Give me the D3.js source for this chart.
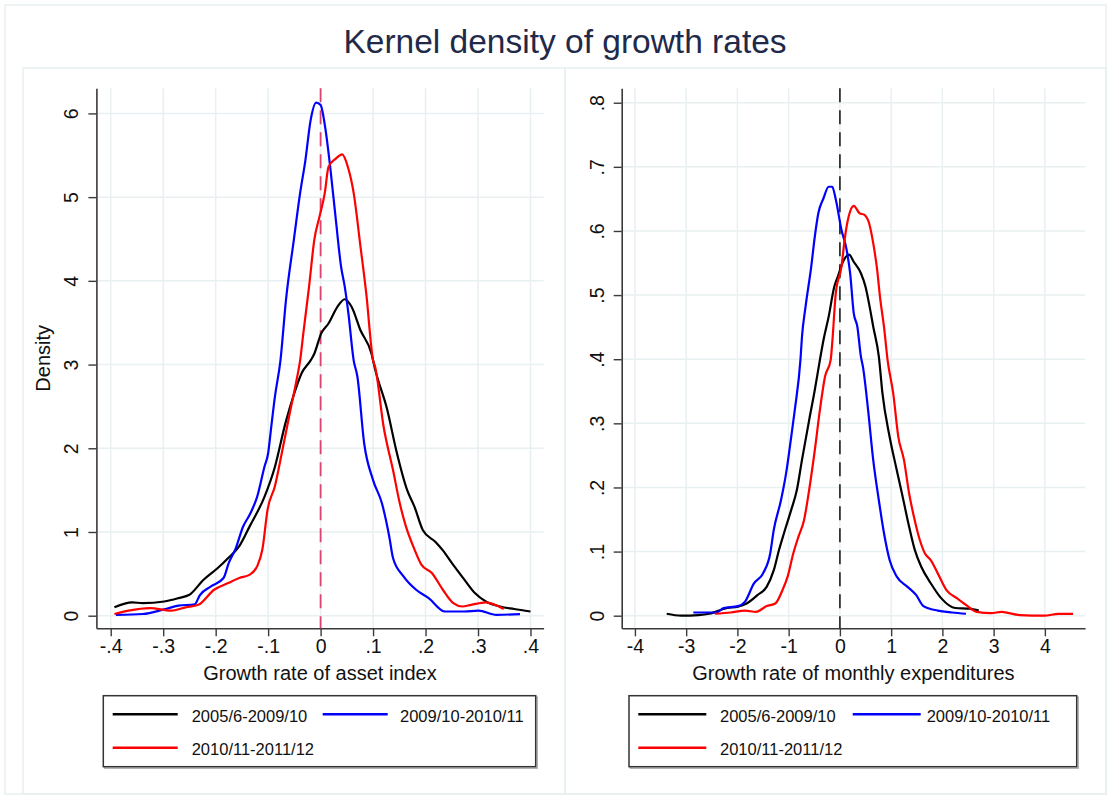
<!DOCTYPE html>
<html>
<head>
<meta charset="utf-8">
<script src="https://cdn.jsdelivr.net/npm/d3@7"></script>
<style>
  body { margin: 0; background: #fff; }
  svg { display: block; font-family: "Liberation Sans", Arial, sans-serif; }
</style>
</head>
<body>
<svg id="chart" width="1119" height="809"></svg>
<script>
// ---------------- DATA ----------------
const seriesNames = ["2005/6-2009/10", "2009/10-2010/11", "2010/11-2011/12"];
const seriesColors = ["#000000", "#0000ff", "#ff0000"];

// Left panel: growth rate of asset index  [x, density]
const assetBlack = [[-0.393,0.10],[-0.359,0.16],[-0.339,0.15],[-0.298,0.17],[-0.271,0.21],[-0.250,0.25],[-0.223,0.43],[-0.196,0.57],[-0.176,0.69],[-0.155,0.83],[-0.135,1.07],[-0.107,1.42],[-0.087,1.78],[-0.067,2.30],[-0.050,2.66],[-0.036,2.90],[-0.019,3.05],[-0.012,3.13],[0.001,3.37],[0.015,3.49],[0.032,3.69],[0.046,3.78],[0.059,3.69],[0.076,3.41],[0.097,3.13],[0.104,2.94],[0.127,2.46],[0.144,1.98],[0.165,1.50],[0.179,1.30],[0.195,1.02],[0.219,0.88],[0.233,0.78],[0.250,0.63],[0.274,0.43],[0.294,0.27],[0.315,0.17],[0.342,0.11],[0.369,0.08],[0.400,0.05]];
const assetBlue = [[-0.390,0.01],[-0.339,0.02],[-0.298,0.076],[-0.271,0.12],[-0.240,0.136],[-0.230,0.247],[-0.209,0.35],[-0.185,0.45],[-0.175,0.63],[-0.162,0.80],[-0.148,1.06],[-0.134,1.22],[-0.121,1.42],[-0.107,1.78],[-0.100,1.94],[-0.094,2.26],[-0.087,2.62],[-0.0765,3.05],[-0.066,3.77],[-0.051,4.49],[-0.039,5.05],[-0.029,5.44],[-0.019,5.92],[-0.0084,6.13],[0.000,6.10],[0.0086,5.84],[0.019,5.32],[0.029,4.73],[0.039,4.17],[0.046,3.93],[0.053,3.61],[0.063,3.05],[0.070,2.86],[0.083,2.06],[0.100,1.62],[0.117,1.34],[0.131,0.94],[0.138,0.69],[0.158,0.47],[0.182,0.31],[0.206,0.21],[0.237,0.05],[0.274,0.05],[0.301,0.06],[0.335,0.01],[0.380,0.02]];
const assetRed = [[-0.393,0.02],[-0.366,0.06],[-0.325,0.09],[-0.285,0.06],[-0.257,0.10],[-0.233,0.13],[-0.203,0.31],[-0.176,0.39],[-0.155,0.45],[-0.135,0.49],[-0.121,0.59],[-0.111,0.79],[-0.101,1.27],[-0.087,1.55],[-0.074,1.94],[-0.060,2.38],[-0.046,2.81],[-0.039,3.05],[-0.033,3.37],[-0.022,3.93],[-0.012,4.49],[-0.002,4.77],[0.008,5.05],[0.015,5.36],[0.029,5.46],[0.041,5.51],[0.052,5.36],[0.063,5.05],[0.076,4.41],[0.087,3.85],[0.100,3.05],[0.104,2.97],[0.120,2.26],[0.138,1.74],[0.151,1.34],[0.161,1.10],[0.179,0.79],[0.192,0.61],[0.212,0.51],[0.233,0.31],[0.253,0.15],[0.270,0.11],[0.287,0.13],[0.315,0.16],[0.349,0.08]];

// Right panel: growth rate of monthly expenditures  [x, density]
const expBlack = [[-3.38,0.003],[-3.10,0.0],[-2.76,0.001],[-2.55,0.003],[-2.20,0.012],[-1.99,0.014],[-1.82,0.019],[-1.61,0.032],[-1.43,0.045],[-1.29,0.071],[-1.19,0.102],[-1.09,0.129],[-0.95,0.165],[-0.84,0.196],[-0.74,0.243],[-0.60,0.305],[-0.49,0.352],[-0.39,0.399],[-0.32,0.430],[-0.22,0.466],[-0.11,0.513],[-0.04,0.529],[0.06,0.552],[0.18,0.563],[0.27,0.552],[0.41,0.534],[0.50,0.513],[0.58,0.482],[0.65,0.451],[0.76,0.404],[0.83,0.347],[0.97,0.279],[1.11,0.227],[1.21,0.191],[1.35,0.139],[1.46,0.103],[1.59,0.076],[1.77,0.051],[1.98,0.027],[2.25,0.012],[2.53,0.011],[2.71,0.008]];
const expBlue = [[-2.86,0.005],[-2.41,0.005],[-2.27,0.012],[-1.99,0.015],[-1.85,0.022],[-1.68,0.05],[-1.50,0.066],[-1.36,0.097],[-1.29,0.134],[-1.15,0.18],[-1.05,0.222],[-0.95,0.279],[-0.88,0.321],[-0.77,0.399],[-0.74,0.435],[-0.67,0.482],[-0.56,0.544],[-0.49,0.591],[-0.42,0.628],[-0.32,0.651],[-0.22,0.669],[-0.15,0.669],[-0.08,0.649],[0.03,0.602],[0.13,0.571],[0.20,0.534],[0.27,0.472],[0.34,0.451],[0.41,0.404],[0.45,0.388],[0.55,0.321],[0.65,0.243],[0.76,0.18],[0.86,0.129],[0.97,0.087],[1.11,0.061],[1.32,0.045],[1.49,0.032],[1.63,0.015],[1.91,0.008],[2.19,0.005],[2.46,0.003]];
const expRed = [[-2.44,0.003],[-2.13,0.005],[-1.85,0.008],[-1.64,0.006],[-1.43,0.015],[-1.26,0.019],[-1.12,0.040],[-1.02,0.061],[-0.91,0.097],[-0.81,0.123],[-0.70,0.149],[-0.60,0.196],[-0.49,0.258],[-0.39,0.321],[-0.29,0.373],[-0.18,0.399],[-0.15,0.425],[-0.08,0.503],[0.03,0.544],[0.10,0.591],[0.17,0.622],[0.27,0.639],[0.38,0.628],[0.48,0.625],[0.57,0.612],[0.65,0.581],[0.72,0.544],[0.79,0.492],[0.86,0.451],[0.93,0.399],[1.04,0.347],[1.14,0.279],[1.25,0.243],[1.35,0.191],[1.46,0.149],[1.56,0.118],[1.66,0.097],[1.77,0.087],[1.91,0.066],[2.08,0.040],[2.29,0.027],[2.46,0.017],[2.67,0.006],[2.95,0.004],[3.16,0.006],[3.30,0.004],[3.51,0.001],[3.99,0.0],[4.27,0.003],[4.55,0.003]];

const assetXTicks = [-0.4,-0.3,-0.2,-0.1,0,0.1,0.2,0.3,0.4];
const assetXLabels = ["-.4","-.3","-.2","-.1","0",".1",".2",".3",".4"];
const assetYTicks = [0,1,2,3,4,5,6];
const assetYLabels = ["0","1","2","3","4","5","6"];
const expXTicks = [-4,-3,-2,-1,0,1,2,3,4];
const expXLabels = ["-4","-3","-2","-1","0","1","2","3","4"];
const expYTicks = [0,0.1,0.2,0.3,0.4,0.5,0.6,0.7,0.8];
const expYLabels = ["0",".1",".2",".3",".4",".5",".6",".7",".8"];

const titleText = "Kernel density of growth rates";
const yTitle = "Density";
const assetXTitle = "Growth rate of asset index";
const expXTitle = "Growth rate of monthly expenditures";

// ---------------- DRAW ----------------
const svg = d3.select("#chart");
const gridColor = "#e8f0f1";
const axisColor = "#3a3a3a";

// outer and panel frames
svg.append("rect").attr("x",5).attr("y",5).attr("width",1101).attr("height",789)
  .attr("fill","none").attr("stroke",gridColor).attr("stroke-width",1.5);
svg.append("rect").attr("x",23).attr("y",68).attr("width",542).attr("height",726)
  .attr("fill","none").attr("stroke",gridColor).attr("stroke-width",1.5);
svg.append("rect").attr("x",565).attr("y",68).attr("width",541).attr("height",726)
  .attr("fill","none").attr("stroke",gridColor).attr("stroke-width",1.5);

svg.append("text").attr("x",565).attr("y",53).attr("text-anchor","middle")
  .attr("font-size",33.5).attr("fill","#1f2a4a").text(titleText);

function panel(cfg) {
  const x = d3.scaleLinear().domain(cfg.xDomain).range([cfg.left, cfg.right]);
  const y = d3.scaleLinear().domain(cfg.yDomain).range([cfg.bottom, cfg.top]);
  const g = svg.append("g");

  // gridlines
  g.selectAll(".vg").data(cfg.xTicks).join("line")
    .attr("x1",d=>x(d)).attr("x2",d=>x(d)).attr("y1",cfg.top).attr("y2",cfg.bottom)
    .attr("stroke",gridColor).attr("stroke-width",1.5);
  g.selectAll(".hg").data(cfg.yTicks).join("line")
    .attr("x1",cfg.left).attr("x2",cfg.right).attr("y1",d=>y(d)).attr("y2",d=>y(d))
    .attr("stroke",gridColor).attr("stroke-width",1.5);

  // x axis
  const xAxis = d3.axisBottom(x).tickValues(cfg.xTicks)
    .tickFormat((d,i)=>cfg.xLabels[i]).tickSize(8).tickPadding(3).tickSizeOuter(0);
  const gx = g.append("g").attr("transform",`translate(0,${cfg.bottom})`).call(xAxis);
  gx.select(".domain").attr("stroke",axisColor).attr("stroke-width",1.6);
  gx.selectAll(".tick line").attr("stroke",axisColor).attr("stroke-width",1.4);
  gx.selectAll(".tick text").attr("font-size",19.5).attr("fill","#111")
    .attr("font-family","'Liberation Sans', Arial, sans-serif");

  // y axis
  const yAxis = d3.axisLeft(y).tickValues(cfg.yTicks)
    .tickFormat((d,i)=>cfg.yLabels[i]).tickSize(8).tickSizeOuter(0);
  const gy = g.append("g").attr("transform",`translate(${cfg.left},0)`).call(yAxis);
  gy.select(".domain").attr("stroke",axisColor).attr("stroke-width",1.6);
  gy.selectAll(".tick line").attr("stroke",axisColor).attr("stroke-width",1.4);
  gy.selectAll(".tick text").attr("font-size",19.5).attr("fill","#111")
    .attr("font-family","'Liberation Sans', Arial, sans-serif")
    .attr("x",null).attr("dy",null)
    .attr("text-anchor","middle")
    .attr("transform","translate(-18,0) rotate(-90)");

  // zero reference line
  g.append("line").attr("x1",x(0)).attr("x2",x(0)).attr("y1",cfg.top).attr("y2",cfg.bottom)
    .attr("stroke",cfg.refColor).attr("stroke-width",1.8).attr("stroke-dasharray","14,8");

  // curves
  const line = d3.line().x(d=>x(d[0])).y(d=>y(d[1])).curve(d3.curveMonotoneX);
  cfg.series.forEach((s,i)=>{
    g.append("path").datum(s).attr("d",line).attr("fill","none")
      .attr("stroke",seriesColors[i]).attr("stroke-width",2.2).attr("stroke-linejoin","round");
  });

  // axis titles
  g.append("text").attr("x",(cfg.left+cfg.right)/2).attr("y",680).attr("text-anchor","middle")
    .attr("font-size",20).attr("fill","#111").text(cfg.xTitle);
  if (cfg.yTitle) {
    g.append("text").attr("transform",`translate(50,${(cfg.top+cfg.bottom)/2}) rotate(-90)`)
      .attr("text-anchor","middle").attr("font-size",20).attr("fill","#111").text(cfg.yTitle);
  }

  // legend
  const L = cfg.legend;
  g.append("rect").attr("x",L.x+1.5).attr("y",L.y+1.5).attr("width",L.w).attr("height",L.h)
    .attr("fill","none").attr("stroke","#b0b0b0").attr("stroke-width",1.5);
  g.append("rect").attr("x",L.x).attr("y",L.y).attr("width",L.w).attr("height",L.h)
    .attr("fill","#fff").attr("stroke","#333").attr("stroke-width",1.5);
  L.items.forEach((it,i)=>{
    g.append("line").attr("x1",it.lx).attr("x2",it.lx+L.sw).attr("y1",it.ly).attr("y2",it.ly)
      .attr("stroke",seriesColors[i]).attr("stroke-width",2.6);
    g.append("text").attr("x",it.tx).attr("y",it.ly+7.5).attr("font-size",16.5)
      .attr("fill","#111").text(seriesNames[i]);
  });
}

panel({
  left:96.4, right:543.6, top:88.3, bottom:628.3,
  xDomain:[-0.4273,0.425], yDomain:[-0.1505,6.3],
  xTicks:assetXTicks, xLabels:assetXLabels, yTicks:assetYTicks, yLabels:assetYLabels,
  series:[assetBlack, assetBlue, assetRed], refColor:"#d9436e",
  xTitle:assetXTitle, yTitle:yTitle,
  legend:{x:103.3, y:695.7, w:432.4, h:71, sw:65,
    items:[{lx:112.7, ly:714.3, tx:191.7},{lx:322.7, ly:714.3, tx:400},{lx:112.7, ly:747.7, tx:191.7}]}
});

panel({
  left:621.7, right:1085.1, top:88.3, bottom:628.3,
  xDomain:[-4.258,4.785], yDomain:[-0.01965,0.8225],
  xTicks:expXTicks, xLabels:expXLabels, yTicks:expYTicks, yLabels:expYLabels,
  series:[expBlack, expBlue, expRed], refColor:"#333333",
  xTitle:expXTitle, yTitle:null,
  legend:{x:629, y:695.7, w:447.7, h:71, sw:68,
    items:[{lx:638.3, ly:714.3, tx:720},{lx:852.7, ly:714.3, tx:926.7},{lx:638.3, ly:747.7, tx:720}]}
});
</script>
</body>
</html>
